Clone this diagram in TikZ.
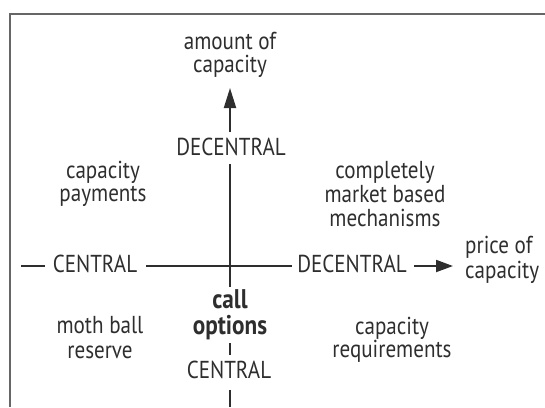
\documentclass[tikz,border=0pt]{standalone}
\usepackage{fontspec}
\setmainfont[FakeStretch=0.86]{PT Sans}
\usetikzlibrary{arrows.meta}
\definecolor{ink}{HTML}{2E2E2E}
\definecolor{framec}{HTML}{666666}
\tikzset{
  lbl/.style={anchor=base, inner sep=0pt, text=ink, font=\fontsize{24.5bp}{26bp}\selectfont},
  bold/.style={lbl, font=\fontsize{27bp}{28bp}\selectfont\bfseries},
  axis/.style={draw=ink, line width=2bp},
  tip/.style={-{Triangle[length=20bp,width=12bp]}},
  tiph/.style={-{Triangle[length=17bp,width=12bp]}},
  framel/.style={draw=framec, line width=2bp}
}
\begin{document}
\begin{tikzpicture}[x=1bp,y=-1bp]
\useasboundingbox (0,0) rectangle (545,407);
\draw[framel] (10,407) -- (10,14.3) -- (545,14.3);
% texts
\node[lbl] (amt1) at (230,49) {amount of};
\node[lbl] (amt2) at (230,72) {capacity};
\node[lbl] (dtop) at (231,155) {DECENTRAL};
\node[lbl] (cp1) at (103,178) {capacity};
\node[lbl] (cp2) at (103,201) {payments};
\node[lbl] (mb1) at (385,178) {completely};
\node[lbl] (mb2) at (385,202) {market based};
\node[lbl] (mb3) at (385,226) {mechanisms};
\node[lbl] (cleft) at (95,272) {CENTRAL};
\node[lbl] (dright) at (352,272) {DECENTRAL};
\node[lbl, anchor=base west] (pr1) at (465,253) {price of};
\node[lbl, anchor=base west] (pr2) at (465,278) {capacity};
\node[bold] (co1) at (230,308) {call};
\node[bold] (co2) at (230,334) {options};
\node[lbl] (mr1) at (100,333) {moth ball};
\node[lbl] (mr2) at (100,358) {reserve};
\node[lbl] (cr1) at (392,334) {capacity};
\node[lbl] (cr2) at (392,357) {requirements};
\node[lbl] (cbot) at (229,378) {CENTRAL};
% axis coordinates
\coordinate (ushaft) at (230,132);
\coordinate (utip) at (230,88);
\coordinate (vtop) at (230,164);
\coordinate (vbot) at (230,287);
\coordinate (d1) at (230,343);
\coordinate (d2) at (230,355);
\coordinate (b1) at (230,390);
\coordinate (b2) at (230,407);
\coordinate (hl1) at (21,266);
\coordinate (hl2) at (45,266);
\coordinate (hm1) at (146,266);
\coordinate (hm2) at (292,266);
\coordinate (ha1) at (414,266);
\coordinate (ha2) at (453,266);
\draw[axis, tip] (ushaft) -- (utip);
\draw[axis] (vtop) -- (vbot);
\draw[axis] (d1) -- (d2);
\draw[axis] (b1) -- (b2);
\draw[axis] (hl1) -- (hl2);
\draw[axis] (hm1) -- (hm2);
\draw[axis, tiph] (ha1) -- (ha2);
\end{tikzpicture}
\end{document}
